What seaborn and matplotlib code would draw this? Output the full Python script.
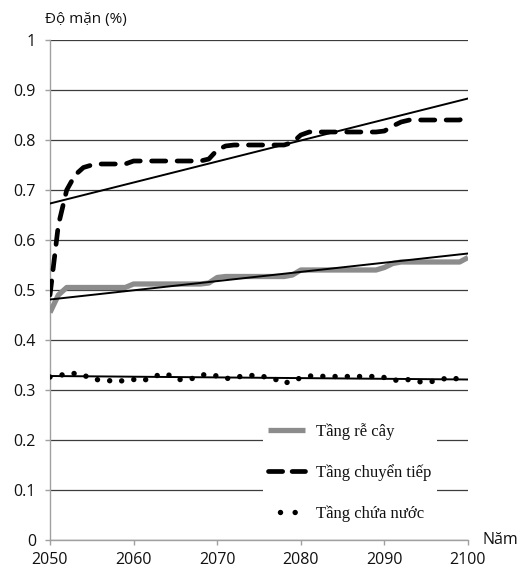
import numpy as np
import pandas as pd
import matplotlib
matplotlib.use("Agg")
import matplotlib.pyplot as plt
from matplotlib.lines import Line2D
import seaborn as sns

# Salinity projections by soil layer, yearly 2050-2100
years = list(range(2050, 2101))

root_zone = [0.455, 0.49, 0.505, 0.505, 0.505, 0.505, 0.505, 0.505, 0.505, 0.505,
             0.512, 0.512, 0.512, 0.512, 0.512, 0.512, 0.512, 0.512, 0.512, 0.514,
             0.525, 0.527, 0.527, 0.527, 0.527, 0.527, 0.527, 0.527, 0.527, 0.530,
             0.540, 0.540, 0.540, 0.540, 0.540, 0.540, 0.540, 0.540, 0.540, 0.540,
             0.545, 0.553, 0.556, 0.556, 0.556, 0.556, 0.556, 0.556, 0.556, 0.556,
             0.565]

transition = [0.49, 0.63, 0.70, 0.73, 0.745, 0.75, 0.752, 0.752, 0.752, 0.752,
              0.758, 0.758, 0.758, 0.758, 0.758, 0.758, 0.758, 0.758, 0.758, 0.762,
              0.78, 0.788, 0.79, 0.79, 0.79, 0.79, 0.79, 0.79, 0.79, 0.795,
              0.81, 0.816, 0.816, 0.816, 0.816, 0.816, 0.816, 0.816, 0.816, 0.816,
              0.818, 0.828, 0.836, 0.84, 0.84, 0.84, 0.84, 0.84, 0.84, 0.84,
              0.848]

aquifer = [0.326, 0.328, 0.333, 0.333, 0.330, 0.322, 0.320, 0.319, 0.316, 0.320,
           0.321, 0.318, 0.324, 0.330, 0.332, 0.322, 0.320, 0.323, 0.330, 0.331,
           0.328, 0.323, 0.324, 0.328, 0.329, 0.329, 0.325, 0.321, 0.313, 0.319,
           0.324, 0.328, 0.328, 0.327, 0.327, 0.327, 0.327, 0.327, 0.327, 0.327,
           0.325, 0.320, 0.319, 0.321, 0.317, 0.315, 0.318, 0.322, 0.325, 0.321,
           0.320]

# Linear trend lines (values at the first and last year)
trend_years = [2050, 2100]
trend_root = [0.481, 0.573]
trend_transition = [0.673, 0.883]
trend_aquifer = [0.328, 0.321]

series_labels = ["Tầng rễ cây", "Tầng chuyển tiếp", "Tầng chứa nước"]
y_ticks = [0, 0.1, 0.2, 0.3, 0.4, 0.5, 0.6, 0.7, 0.8, 0.9, 1]
y_tick_labels = ["0", "0.1", "0.2", "0.3", "0.4", "0.5", "0.6", "0.7", "0.8", "0.9", "1"]
x_ticks = [2050, 2060, 2070, 2080, 2090, 2100]

df = pd.DataFrame({"year": years, "root": root_zone,
                   "trans": transition, "aqui": aquifer})
trend_df = pd.DataFrame({"year": trend_years, "root": trend_root,
                         "trans": trend_transition, "aqui": trend_aquifer})

sns.set_style("white")
plt.rcParams["font.family"] = ["Open Sans", "DejaVu Sans"]

fig = plt.figure(figsize=(5.23, 5.69), dpi=100)
ax = fig.add_axes([50 / 523, 29 / 569, 418 / 523, 500 / 569])

GRAY = "#8c8c8c"

# Series
sns.lineplot(data=df, x="year", y="root", ax=ax, color=GRAY, lw=3.8,
             solid_capstyle="butt", zorder=3)
sns.lineplot(data=df, x="year", y="trans", ax=ax, color="black", lw=3.4,
             linestyle=(0, (3.0, 2.4)), dash_capstyle="round", zorder=3)
sns.lineplot(data=df, x="year", y="aqui", ax=ax, color="black", lw=3.9,
             linestyle=(0, (0.01, 2.25)), dash_capstyle="round", zorder=3)

# Trend lines
for col in ["root", "trans", "aqui"]:
    sns.lineplot(data=trend_df, x="year", y=col, ax=ax, color="black",
                 lw=1.4, zorder=4)

ax.set_xlim(2050, 2100)
ax.set_ylim(0, 1)
ax.set_yticks(y_ticks)
ax.set_yticklabels(y_tick_labels)
ax.set_xticks(x_ticks)
ax.set_xlabel("")
ax.set_ylabel("")

ax.set_axisbelow(True)
ax.yaxis.grid(True, color="#3c3c3c", lw=0.9)
ax.xaxis.grid(False)
for side in ["top", "right"]:
    ax.spines[side].set_visible(False)
for side in ["left", "bottom"]:
    ax.spines[side].set_color("#a0a0a0")
    ax.spines[side].set_linewidth(1.0)

ax.tick_params(axis="y", which="both", left=True, length=3.6, width=1,
               color="#a0a0a0", pad=6.5, labelsize=11.5, labelcolor="#111111")
ax.tick_params(axis="x", which="both", bottom=True, length=3.6, width=1,
               color="#a0a0a0", pad=5, labelsize=11.5, labelcolor="#111111")

fig.text(86 / 523, 1 - 20 / 569, "Độ mặn (%)", ha="center", va="center",
         fontsize=11, color="#111111")
fig.text(500 / 523, 1 - 540 / 569, "Năm", ha="center", va="center",
         fontsize=11.5, color="#111111")

# Legend
handles = [
    Line2D([], [], color=GRAY, lw=3.8, solid_capstyle="butt"),
    Line2D([], [], color="black", lw=3.4, linestyle=(0, (3.0, 2.0)),
           dash_capstyle="round"),
    Line2D([], [], color="black", lw=3.9, linestyle=(0.5, (0.01, 2.7)),
           dash_capstyle="round"),
]
leg = ax.legend(handles, series_labels, loc="upper left",
                bbox_to_anchor=(213 / 418, 1 - 378 / 500),
                frameon=True, facecolor="white", edgecolor="none",
                framealpha=1.0, fancybox=False, borderaxespad=0,
                borderpad=0.3, handlelength=2.2, handletextpad=0.7,
                labelspacing=1.45,
                prop={"family": ["Liberation Serif"], "size": 12})
for t in leg.get_texts():
    t.set_color("#111111")

fig.savefig("out.png", dpi=100, facecolor="white")
